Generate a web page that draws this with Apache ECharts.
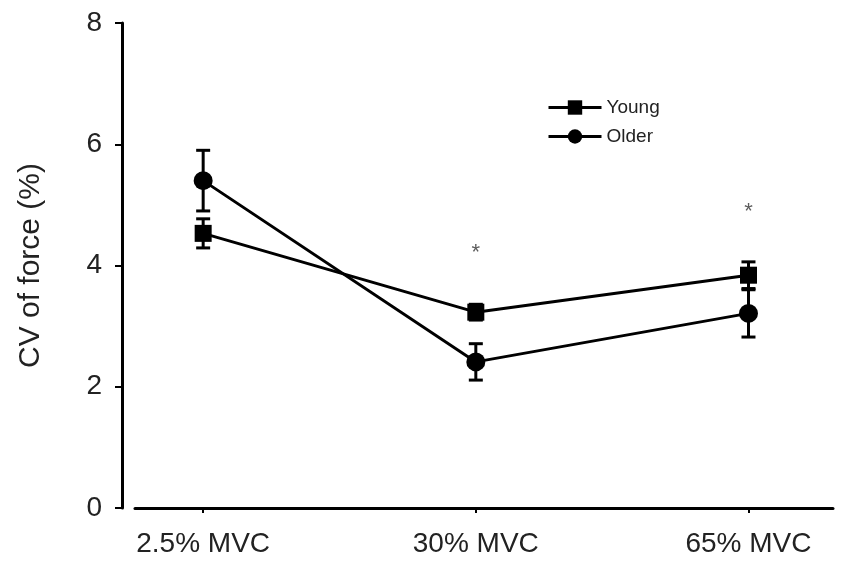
<!DOCTYPE html>
<html>
<head>
<meta charset="utf-8">
<script src="https://cdn.jsdelivr.net/npm/echarts@6/dist/echarts.min.js"></script>
<style>html,body{margin:0;padding:0;background:#fff;}#c{width:850px;height:571px;}</style>
</head>
<body>
<div id="c"></div>
<script>
const categories = ['2.5% MVC', '30% MVC', '65% MVC'];
const youngMean = [4.53, 3.23, 3.84];
const youngErr = [0.24, 0.13, 0.22];
const olderMean = [5.40, 2.41, 3.21];
const olderErr = [0.50, 0.30, 0.39];
const starPos = [1, 2];
const starVal = [4.2, 4.88];
const yTicks = [0, 2, 4, 6, 8];

const FONT = "'Liberation Sans', Arial, sans-serif";
const chart = echarts.init(document.getElementById('c'));

function pairs(vals) { return vals.map((v, i) => [i, v]); }
function errData(m, e) { return m.map((v, i) => [i, v, e[i]]); }

function errRender(params, api) {
  const x = api.value(0), y = api.value(1), e = api.value(2);
  const top = api.coord([x, y + e]);
  const bot = api.coord([x, y - e]);
  const hw = 7;
  const st = { stroke: '#000', lineWidth: 3 };
  return {
    type: 'group',
    children: [
      { type: 'line', shape: { x1: top[0], y1: top[1], x2: bot[0], y2: bot[1] }, style: st },
      { type: 'line', shape: { x1: top[0] - hw, y1: top[1], x2: top[0] + hw, y2: top[1] }, style: st },
      { type: 'line', shape: { x1: bot[0] - hw, y1: bot[1], x2: bot[0] + hw, y2: bot[1] }, style: st }
    ]
  };
}

chart.setOption({
  animation: false,
  backgroundColor: '#fff',
  grid: { left: 135, right: 17, top: 23, bottom: 63 },
  legend: {
    orient: 'vertical',
    left: 542,
    top: 93,
    itemWidth: 53,
    itemHeight: 18,
    itemGap: 10,
    lineStyle: { width: 3 },
    textStyle: { fontFamily: FONT, fontSize: 19, color: '#222' },
    data: ['Young', 'Older']
  },
  xAxis: {
    type: 'value',
    min: -0.25,
    max: 2.31,
    splitLine: { show: false },
    axisLine: { onZero: false, lineStyle: { color: '#000', width: 3 } },
    axisTick: { show: true, customValues: [0, 1, 2], length: 5, lineStyle: { color: '#000', width: 2 } },
    axisLabel: {
      customValues: [0, 1, 2],
      formatter: v => categories[Math.round(v)],
      margin: 22,
      fontFamily: FONT, fontSize: 28, color: '#222'
    }
  },
  yAxis: {
    type: 'value',
    min: 0, max: 8, interval: 2,
    offset: 13,
    name: 'CV of force (%)',
    nameLocation: 'middle',
    nameGap: 76,
    nameTextStyle: { fontFamily: FONT, fontSize: 30, color: '#222' },
    splitLine: { show: false },
    axisLine: { show: true, onZero: false, lineStyle: { color: '#000', width: 3 } },
    axisTick: { show: true, length: 7, lineStyle: { color: '#000', width: 2 } },
    axisLabel: {
      margin: 20,
      formatter: v => yTicks.indexOf(v) >= 0 ? String(v) : '',
      fontFamily: FONT, fontSize: 28, color: '#222'
    }
  },
  series: [
    {
      name: 'Young', type: 'line', data: pairs(youngMean),
      symbol: 'rect', symbolSize: 17,
      lineStyle: { color: '#000', width: 3 },
      itemStyle: { color: '#000' }, z: 3
    },
    {
      name: 'Older', type: 'line', data: pairs(olderMean),
      symbol: 'circle', symbolSize: 19,
      lineStyle: { color: '#000', width: 3 },
      itemStyle: { color: '#000' }, z: 3
    },
    { type: 'custom', renderItem: errRender, data: errData(youngMean, youngErr), z: 2 },
    { type: 'custom', renderItem: errRender, data: errData(olderMean, olderErr), z: 2 },
    {
      type: 'scatter', data: starPos.map((x, i) => [x, starVal[i]]),
      symbolSize: 0,
      label: { show: true, formatter: '*', position: 'inside', fontFamily: FONT, fontSize: 22, color: '#333' }
    }
  ]
});
</script>
</body>
</html>
